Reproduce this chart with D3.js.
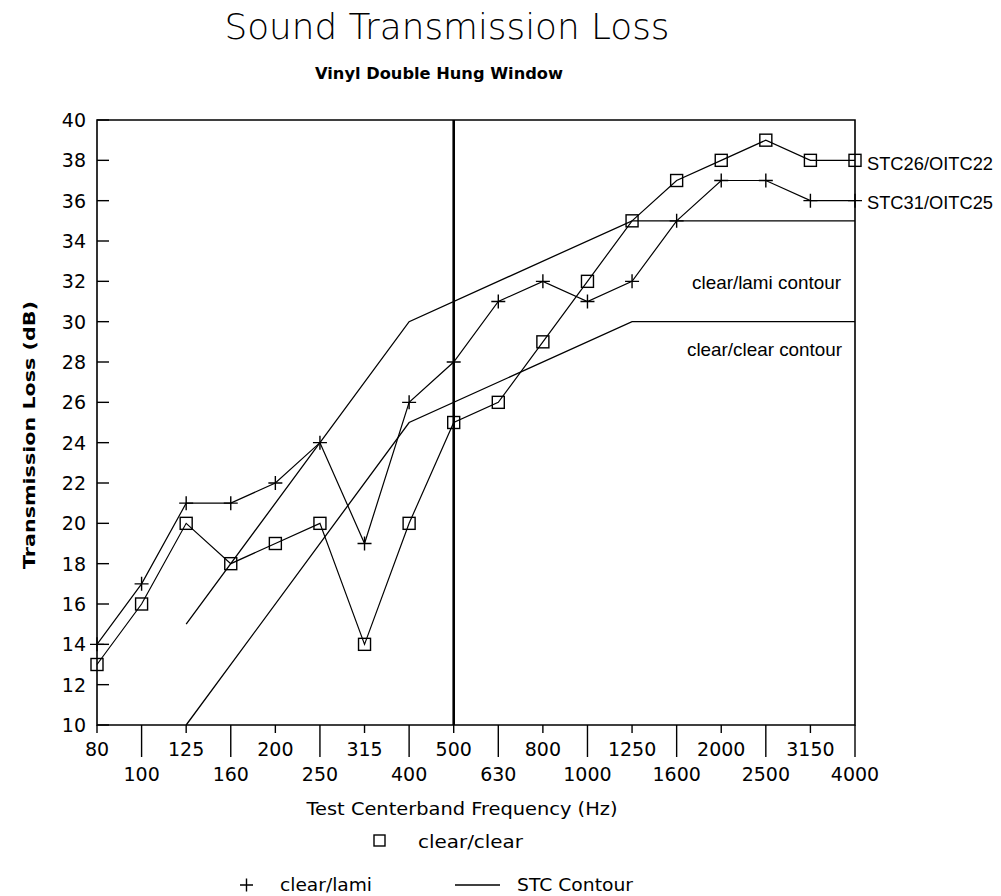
<!DOCTYPE html>
<html lang="en">

<head>
    <meta charset="UTF-8">
    <title>Sound Transmission Loss</title>
    <style>
        body { margin: 0; background: #fff; }
    </style>
</head>

<body>
    <script src="https://cdn.jsdelivr.net/npm/d3@7"></script>
    <script>
        const freqs = ['80', '100', '125', '160', '200', '250', '315', '400', '500',
            '630', '800', '1000', '1250', '1600', '2000', '2500', '3150', '4000'];

        const clearClear = [13, 16, 20, 18, 19, 20, 14, 20, 25, 26, 29, 32, 35, 37, 38, 39, 38, 38];
        const clearLami = [14, 17, 21, 21, 22, 24, 19, 26, 28, 31, 32, 31, 32, 35, 37, 37, 36, 36];

        // STC contour knots
        const contourFreqs = ['125', '400', '1250', '4000'];
        const lamiContour = [15, 30, 35, 35];
        const clearContour = [10, 25, 30, 30];

        const yTicks = [10, 12, 14, 16, 18, 20, 22, 24, 26, 28, 30, 32, 34, 36, 38, 40];

        const w = 1001;
        const h = 896;
        const padL = 97, padR = 855, padT = 120, padB = 725;

        const xScale = d3.scalePoint()
            .domain(freqs)
            .range([padL, padR]);

        const yScale = d3.scaleLinear()
            .domain([10, 40])
            .range([padB, padT]);

        const svg = d3.select('body')
            .append('svg')
            .attr('width', w)
            .attr('height', h);

        // titles
        svg.append('text')
            .attr('x', 447).attr('y', 39)
            .attr('text-anchor', 'middle')
            .attr('font-family', 'DejaVu Sans')
            .attr('font-weight', 200)
            .attr('font-size', 35)
            .attr('textLength', 445).attr('lengthAdjust', 'spacingAndGlyphs')
            .text('Sound Transmission Loss');

        svg.append('text')
            .attr('x', 439).attr('y', 79)
            .attr('text-anchor', 'middle')
            .attr('font-family', 'DejaVu Sans')
            .attr('font-weight', 'bold')
            .attr('font-size', 15)
            .attr('textLength', 248).attr('lengthAdjust', 'spacingAndGlyphs')
            .text('Vinyl Double Hung Window');

        // frame
        const frame = svg.append('g').attr('stroke', '#000').attr('fill', 'none');
        frame.append('path')
            .attr('stroke-width', 1.6)
            .attr('d', `M${padL},${padB}V${padT}H${padR}V${padB}Z`);

        // 500 Hz marker line
        frame.append('line')
            .attr('x1', xScale('500')).attr('x2', xScale('500'))
            .attr('y1', padT).attr('y2', padB)
            .attr('stroke-width', 2.6);

        // y ticks (inside)
        svg.selectAll('.ytick')
            .data(yTicks)
            .enter()
            .append('line')
            .attr('x1', padL).attr('x2', padL + 12)
            .attr('y1', d => yScale(d)).attr('y2', d => yScale(d))
            .attr('stroke', '#000').attr('stroke-width', 1.4);

        svg.selectAll('.ylab')
            .data(yTicks)
            .enter()
            .append('text')
            .attr('x', 86)
            .attr('y', d => yScale(d) + 7)
            .attr('text-anchor', 'end')
            .attr('font-family', 'DejaVu Sans')
            .attr('font-size', 19)
            .text(d => d);

        // x ticks: alternate rows
        svg.selectAll('.xtick')
            .data(freqs)
            .enter()
            .append('line')
            .attr('x1', d => xScale(d)).attr('x2', d => xScale(d))
            .attr('y1', padB)
            .attr('y2', (d, i) => i % 2 ? padB + 32 : padB + 8)
            .attr('stroke', '#000').attr('stroke-width', 1.4);

        svg.selectAll('.xlab')
            .data(freqs)
            .enter()
            .append('text')
            .attr('x', d => xScale(d))
            .attr('y', (d, i) => i % 2 ? 781 : 756)
            .attr('text-anchor', 'middle')
            .attr('font-family', 'DejaVu Sans')
            .attr('font-size', 19)
            .text(d => d);

        // axis titles
        svg.append('text')
            .attr('x', 462).attr('y', 815)
            .attr('text-anchor', 'middle')
            .attr('font-family', 'DejaVu Sans')
            .attr('font-size', 17)
            .attr('textLength', 311).attr('lengthAdjust', 'spacingAndGlyphs')
            .text('Test Centerband Frequency (Hz)');

        svg.append('text')
            .attr('transform', 'translate(35,435) rotate(-90)')
            .attr('text-anchor', 'middle')
            .attr('font-family', 'DejaVu Sans')
            .attr('font-weight', 'bold')
            .attr('font-size', 15)
            .attr('textLength', 268).attr('lengthAdjust', 'spacingAndGlyphs')
            .text('Transmission Loss (dB)');

        const line = d3.line()
            .x(d => xScale(d[0]))
            .y(d => yScale(d[1]));

        // contours
        [lamiContour, clearContour].forEach(vals => {
            svg.append('path')
                .datum(contourFreqs.map((f, i) => [f, vals[i]]))
                .attr('d', line)
                .attr('fill', 'none')
                .attr('stroke', '#000')
                .attr('stroke-width', 1.3);
        });

        // measured series
        [clearClear, clearLami].forEach(vals => {
            svg.append('path')
                .datum(freqs.map((f, i) => [f, vals[i]]))
                .attr('d', line)
                .attr('fill', 'none')
                .attr('stroke', '#000')
                .attr('stroke-width', 1.2);
        });

        svg.selectAll('.sq')
            .data(freqs.map((f, i) => [f, clearClear[i]]))
            .enter()
            .append('rect')
            .attr('x', d => xScale(d[0]) - 6)
            .attr('y', d => yScale(d[1]) - 6)
            .attr('width', 12).attr('height', 12)
            .attr('fill', 'none')
            .attr('stroke', '#000').attr('stroke-width', 1.4);

        svg.selectAll('.plus')
            .data(freqs.map((f, i) => [f, clearLami[i]]))
            .enter()
            .append('path')
            .attr('d', d => {
                const x = xScale(d[0]), y = yScale(d[1]);
                return `M${x - 7},${y}H${x + 7}M${x},${y - 7}V${y + 7}`;
            })
            .attr('stroke', '#000').attr('stroke-width', 1.4);

        // annotations
        const notes = [
            { t: 'STC26/OITC22', x: 867, y: 170, a: 'start', len: 126 },
            { t: 'STC31/OITC25', x: 867, y: 209, a: 'start', len: 126 },
            { t: 'clear/lami contour', x: 841, y: 289, a: 'end', len: 149 },
            { t: 'clear/clear contour', x: 842, y: 356, a: 'end', len: 155 }
        ];
        svg.selectAll('.note')
            .data(notes)
            .enter()
            .append('text')
            .attr('x', d => d.x).attr('y', d => d.y)
            .attr('text-anchor', d => d.a)
            .attr('font-family', 'Liberation Sans')
            .attr('font-size', 19)
            .attr('textLength', d => d.len).attr('lengthAdjust', 'spacingAndGlyphs')
            .text(d => d.t);

        // legend
        const leg = svg.append('g')
            .attr('font-family', 'DejaVu Sans')
            .attr('font-size', 17);
        leg.append('rect')
            .attr('x', 374).attr('y', 835).attr('width', 11).attr('height', 11)
            .attr('fill', 'none').attr('stroke', '#000').attr('stroke-width', 1.4);
        leg.append('text').attr('x', 418).attr('y', 848)
            .attr('textLength', 105).attr('lengthAdjust', 'spacingAndGlyphs')
            .text('clear/clear');
        leg.append('path')
            .attr('d', 'M240,885H253M246.5,878.5V891.5')
            .attr('stroke', '#000').attr('stroke-width', 1.4);
        leg.append('text').attr('x', 280).attr('y', 891)
            .attr('textLength', 92).attr('lengthAdjust', 'spacingAndGlyphs')
            .text('clear/lami');
        leg.append('line')
            .attr('x1', 455).attr('x2', 500).attr('y1', 885).attr('y2', 885)
            .attr('stroke', '#000').attr('stroke-width', 1.4);
        leg.append('text').attr('x', 517).attr('y', 891)
            .attr('textLength', 116).attr('lengthAdjust', 'spacingAndGlyphs')
            .text('STC Contour');
    </script>
</body>

</html>
